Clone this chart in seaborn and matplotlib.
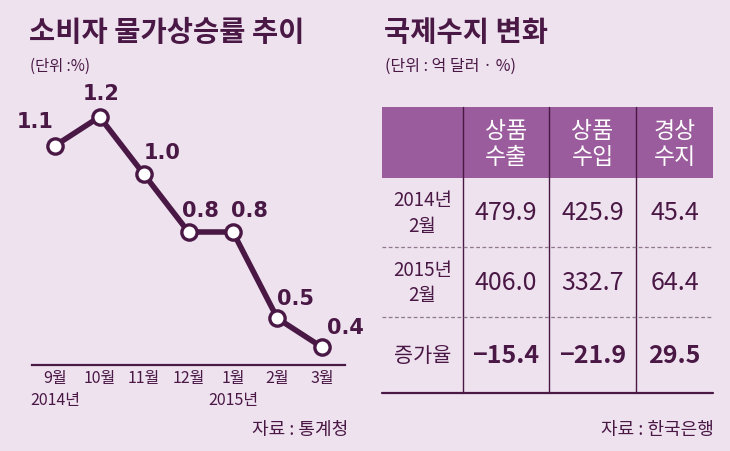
import numpy as np
import pandas as pd
import matplotlib
matplotlib.use("Agg")
import matplotlib.pyplot as plt
import seaborn as sns
from matplotlib.patches import Rectangle

# data
months = ["9월\n2014년", "10월", "11월", "12월", "1월\n2015년", "2월", "3월"]
cpi = [1.1, 1.2, 1.0, 0.8, 0.8, 0.5, 0.4]
# label offsets in pixels (dx, dy) relative to each point
label_off = [(-20, 25), (2, 24), (18, 22), (12, 22), (16, 22), (18, 20), (24, 20)]

col_heads = ["상품\n수출", "상품\n수입", "경상\n수지"]
row_heads = ["2014년\n2월", "2015년\n2월", "증가율"]
exports = ["479.9", "406.0", "−15.4"]
imports = ["425.9", "332.7", "−21.9"]
current = ["45.4", "64.4", "29.5"]

sns.set_theme(style="white")
plt.rcParams["font.family"] = ["Noto Sans CJK KR", "DejaVu Sans"]

bg = "#eee2ef"
dark = "#4a1845"
head = "#9a5c9c"
W, H = 730, 452

fig = plt.figure(figsize=(7.3, 4.52), dpi=100)
fig.patch.set_facecolor(bg)

# overlay axes in pixel coordinates for titles and table
ov = fig.add_axes([0, 0, 1, 1])
ov.set_xlim(0, W)
ov.set_ylim(H, 0)
ov.axis("off")
ov.patch.set_alpha(0)

ov.text(29, 33, "소비자 물가상승률 추이", fontsize=20.5, fontweight="bold", color=dark, va="center")
ov.text(30, 66, "(단위 :%)", fontsize=11, color=dark, va="center")
ov.text(384, 33, "국제수지 변화", fontsize=20.5, fontweight="bold", color=dark, va="center")
ov.text(385, 66, "(단위 : 억 달러 · %)", fontsize=11.5, color=dark, va="center")
ov.text(348, 430, "자료 : 통계청", fontsize=13, color=dark, va="center", ha="right")
ov.text(714, 430, "자료 : 한국은행", fontsize=13, color=dark, va="center", ha="right")

# table
xs = [382, 463, 549, 636, 713]
ys = [108, 179, 248, 318, 394]
ov.add_patch(Rectangle((xs[0], ys[0]), xs[-1] - xs[0], ys[1] - ys[0], color=head, lw=0))
for x in xs[1:-1]:
    ov.plot([x, x], [ys[0], ys[-1]], color=dark, lw=1)
for y in ys[2:4]:
    ov.plot([xs[0], xs[-1]], [y, y], color="#8e7a8c", lw=0.9, ls=(0, (3, 2)))
ov.plot([xs[0], xs[-1]], [ys[-1], ys[-1]], color=dark, lw=1.6)

cx = [(xs[i] + xs[i + 1]) / 2 for i in range(4)]
cy = [(ys[i] + ys[i + 1]) / 2 for i in range(4)]
for j, t in enumerate(col_heads):
    ov.text(cx[j + 1], cy[0] + 1, t, color="white", fontsize=16.5, ha="center", va="center", linespacing=1.2)
for i, t in enumerate(row_heads):
    ov.text(cx[0], cy[i + 1], t, color=dark, fontsize=13.5 if i < 2 else 15, ha="center", va="center",
            linespacing=1.3)
    for j, col in enumerate([exports, imports, current]):
        ov.text(cx[j + 1], cy[i + 1], col[i], color=dark, fontsize=18, ha="center", va="center",
                fontweight="bold" if i == 2 else "normal")

# line chart
ax = fig.add_axes([32 / W, 1 - 366 / H, (345 - 32) / W, (366 - 100) / H])
ax.set_facecolor("none")
idx = np.arange(len(cpi))
sns.lineplot(x=idx, y=cpi, ax=ax, color=dark, lw=4, marker="o", markersize=11,
             markerfacecolor="white", markeredgecolor=dark, markeredgewidth=2.4)
for i, v in enumerate(cpi):
    dx, dy = label_off[i]
    ax.annotate(f"{v:.1f}", (i, v), xytext=(dx, dy), textcoords="offset pixels",
                ha="center", va="center", fontsize=15, fontweight="bold", color=dark,
                family=["DejaVu Sans"], annotation_clip=False)
ax.set_xlim(-0.52, 6.52)
ax.set_ylim(0.338, 1.262)
for s in ["top", "left", "right"]:
    ax.spines[s].set_visible(False)
ax.spines["bottom"].set_color(dark)
ax.spines["bottom"].set_linewidth(1.6)
ax.set_yticks([])
ax.set_xticks(idx)
ax.set_xticklabels(months, fontsize=11.5, color=dark, linespacing=1.35)
ax.tick_params(axis="x", length=0, pad=3)

fig.savefig("out.png", dpi=100, facecolor=bg)
